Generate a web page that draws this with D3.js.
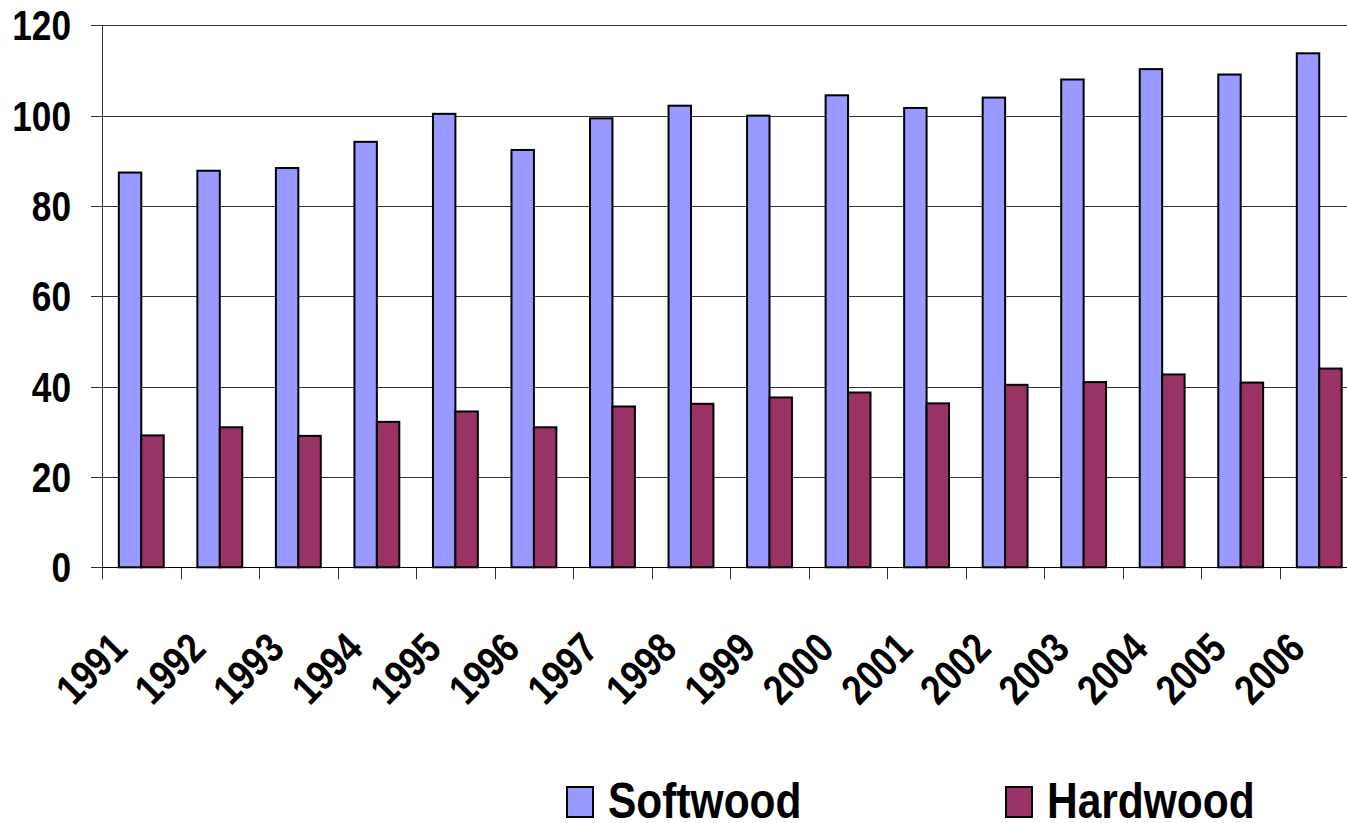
<!DOCTYPE html>
<html><head><meta charset="utf-8">
<script src="https://cdn.jsdelivr.net/npm/d3@7"></script>
<style>html,body{margin:0;padding:0;background:#fff;} svg{display:block;}</style>
</head><body><svg id="chart" width="1347" height="823"></svg>
<script>
const categories = ["1991","1992","1993","1994","1995","1996","1997","1998","1999","2000","2001","2002","2003","2004","2005","2006"];
const softwood = [87.4,87.8,88.4,94.2,100.4,92.4,99.4,102.2,100.0,104.5,101.7,104.0,108.0,110.3,109.1,113.8];
const hardwood = [29.2,31.0,29.1,32.2,34.5,31.0,35.6,36.2,37.6,38.7,36.3,40.4,41.0,42.7,40.9,44.0];
const seriesNames = ["Softwood","Hardwood"];
const seriesColors = ["#9999FF","#993366"];
const yTicks = [0,20,40,60,80,100,120];

const svg = d3.select("#chart");
const pLeft = 102, pRight = 1358.5, pTop = 25.3, pBottom = 567.3;
const font = "'Liberation Sans', Arial, sans-serif";
const sx = 0.84;

const x = d3.scaleBand().domain(categories).range([pLeft, pRight]).paddingInner(0).paddingOuter(0);
const y = d3.scaleLinear().domain([0,120]).range([pBottom, pTop]);
const bw = x.bandwidth() / 3.5;
const off = bw * 0.75;

// gridlines
svg.append("g").selectAll("line").data(yTicks.filter(d=>d>0)).join("line")
  .attr("x1", pLeft).attr("x2", 1347)
  .attr("y1", d=>Math.round(y(d))+0.5).attr("y2", d=>Math.round(y(d))+0.5)
  .attr("stroke", "#333").attr("stroke-width", 1);

// bars
const data = [softwood, hardwood];
data.forEach((vals, si) => {
  svg.append("g").selectAll("rect").data(categories).join("rect")
    .attr("x", d => x(d) + off + si*bw)
    .attr("y", (d,i) => y(vals[i]))
    .attr("width", bw)
    .attr("height", (d,i) => y(0) - y(vals[i]))
    .attr("fill", seriesColors[si])
    .attr("stroke", "#000").attr("stroke-width", 2);
});

// axes lines
svg.append("line").attr("x1", pLeft+0.5).attr("x2", pLeft+0.5).attr("y1", pTop).attr("y2", pBottom+12)
  .attr("stroke","#333").attr("stroke-width",1);
svg.append("line").attr("x1", pLeft).attr("x2", 1347).attr("y1", Math.round(pBottom)+0.5).attr("y2", Math.round(pBottom)+0.5)
  .attr("stroke","#000").attr("stroke-width",1);
// y ticks
svg.append("g").selectAll("line").data(yTicks).join("line")
  .attr("x1", pLeft-11).attr("x2", pLeft)
  .attr("y1", d=>Math.round(y(d))+0.5).attr("y2", d=>Math.round(y(d))+0.5)
  .attr("stroke","#333");
// x ticks at category boundaries
svg.append("g").selectAll("line").data(categories.slice(1)).join("line")
  .attr("x1", d=>Math.round(x(d))+0.5).attr("x2", d=>Math.round(x(d))+0.5)
  .attr("y1", pBottom).attr("y2", pBottom+12)
  .attr("stroke","#333");

// y labels
svg.append("g").selectAll("text").data(yTicks).join("text")
  .attr("transform", d => `translate(71,${y(d)+15}) scale(${sx},1)`)
  .attr("text-anchor","end")
  .attr("font-family", font).attr("font-weight","bold").attr("font-size", 42)
  .attr("fill","#000")
  .text(d=>d);

// x labels
svg.append("g").selectAll("text").data(categories).join("text")
  .attr("transform", d => `translate(${x(d)+x.bandwidth()/2-12},651) rotate(-45) scale(${sx},1)`)
  .attr("text-anchor","end")
  .attr("font-family", font).attr("font-weight","bold").attr("font-size", 42)
  .attr("fill","#000")
  .text(d=>d);

// legend
const legX = [567, 1006];
const lg = svg.append("g").selectAll("g").data(seriesNames).join("g")
  .attr("transform", (d,i)=>`translate(${legX[i]},0)`);
lg.append("rect").attr("x",0).attr("y",787).attr("width",26).attr("height",30)
  .attr("fill",(d,i)=>seriesColors[i]).attr("stroke","#000").attr("stroke-width",2);
lg.append("text")
  .attr("transform", `translate(41,818) scale(0.85,1)`)
  .attr("font-family", font).attr("font-weight","bold").attr("font-size", 50)
  .attr("fill","#000")
  .text(d=>d);
</script></body></html>
